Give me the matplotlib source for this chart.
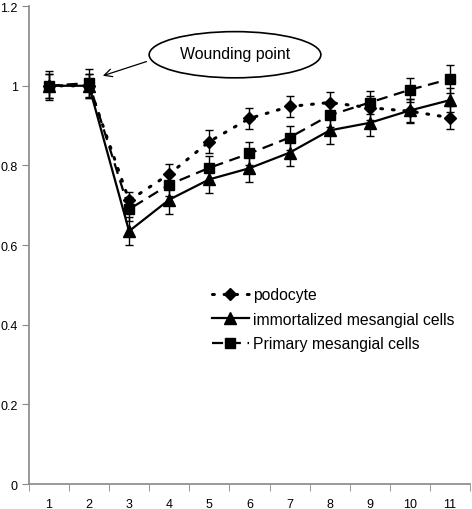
import matplotlib
matplotlib.use("Agg")
import matplotlib.pyplot as plt
from matplotlib.patches import Ellipse

plt.rcParams["font.family"] = ["Liberation Sans", "DejaVu Sans"]

# data
x = [1, 2, 3, 4, 5, 6, 7, 8, 9, 10, 11]
x_labels = [str(v) for v in x]

podocyte = [1.0, 1.0, 0.712, 0.778, 0.860, 0.918, 0.948, 0.958, 0.945, 0.936, 0.920]
podocyte_err = [0.03, 0.03, 0.022, 0.026, 0.028, 0.026, 0.026, 0.026, 0.03, 0.03, 0.028]

immortalized = [1.0, 1.0, 0.635, 0.714, 0.765, 0.793, 0.832, 0.888, 0.907, 0.938, 0.964]
immortalized_err = [0.03, 0.03, 0.036, 0.036, 0.034, 0.034, 0.034, 0.034, 0.034, 0.03, 0.03]

primary = [1.0, 1.007, 0.690, 0.752, 0.794, 0.830, 0.870, 0.926, 0.958, 0.990, 1.017]
primary_err = [0.036, 0.036, 0.03, 0.03, 0.03, 0.03, 0.03, 0.03, 0.03, 0.03, 0.034]

series_names = ["podocyte", "immortalized mesangial cells", "Primary mesangial cells"]

fig = plt.figure(figsize=(4.72, 5.10), dpi=100)
ax = fig.add_axes([0.061, 0.049, 0.935, 0.937])

err_style = dict(fmt="none", ecolor="black", elinewidth=1.0, capsize=3, capthick=1.0)
ax.errorbar(x, podocyte, yerr=podocyte_err, zorder=3, **err_style)
ax.errorbar(x, immortalized, yerr=immortalized_err, zorder=3, **err_style)
ax.errorbar(x, primary, yerr=primary_err, zorder=3, **err_style)

ax.plot(x, podocyte, color="black", marker="D", markersize=6.5,
        linestyle=(0, (0.6, 3.2)), linewidth=2.2, dash_capstyle="round",
        label=series_names[0], zorder=4)
ax.plot(x, immortalized, color="black", marker="^", markersize=8.5,
        linestyle="-", linewidth=1.6, label=series_names[1], zorder=5)
ax.plot(x, primary, color="black", marker="s", markersize=7.5,
        linestyle=(0, (5, 3)), linewidth=1.6, label=series_names[2], zorder=6)

ax.set_xlim(0.5, 11.5)
ax.set_ylim(0, 1.2)
ax.set_yticks([0, 0.2, 0.4, 0.6, 0.8, 1.0, 1.2])
ax.set_yticklabels(["0", "0.2", "0.4", "0.6", "0.8", "1", "1.2"])
ax.set_xticks(x)
ax.set_xticklabels(x_labels)
ax.set_xticks([v + 0.5 for v in [0] + x], minor=True)
ax.tick_params(axis="x", which="major", length=0, pad=10, labelsize=9)
ax.tick_params(axis="x", which="minor", length=5, color="#888888", direction="out")
ax.tick_params(axis="y", length=5, color="#888888", labelsize=9, pad=3)

for side in ["top", "right"]:
    ax.spines[side].set_visible(False)
for side in ["left", "bottom"]:
    ax.spines[side].set_color("#888888")
    ax.spines[side].set_linewidth(1.2)

# wounding point callout
ax.add_patch(Ellipse((5.64, 1.078), 4.28, 0.116, facecolor="white",
                     edgecolor="black", linewidth=1.2, zorder=7))
ax.text(5.64, 1.081, "Wounding point", ha="center", va="center", fontsize=11.4, zorder=8)
ax.annotate("", xy=(2.28, 1.023), xytext=(3.5, 1.063),
            arrowprops=dict(arrowstyle="->", color="black", lw=0.9,
                            mutation_scale=14), zorder=7)

leg = ax.legend(loc="center left", bbox_to_anchor=(0.415, 0.345), frameon=False,
                fontsize=11.3, handlelength=2.35, handletextpad=0.25,
                labelspacing=0.6, borderpad=0, borderaxespad=0, numpoints=1)

fig.savefig("out.png", dpi=100)
